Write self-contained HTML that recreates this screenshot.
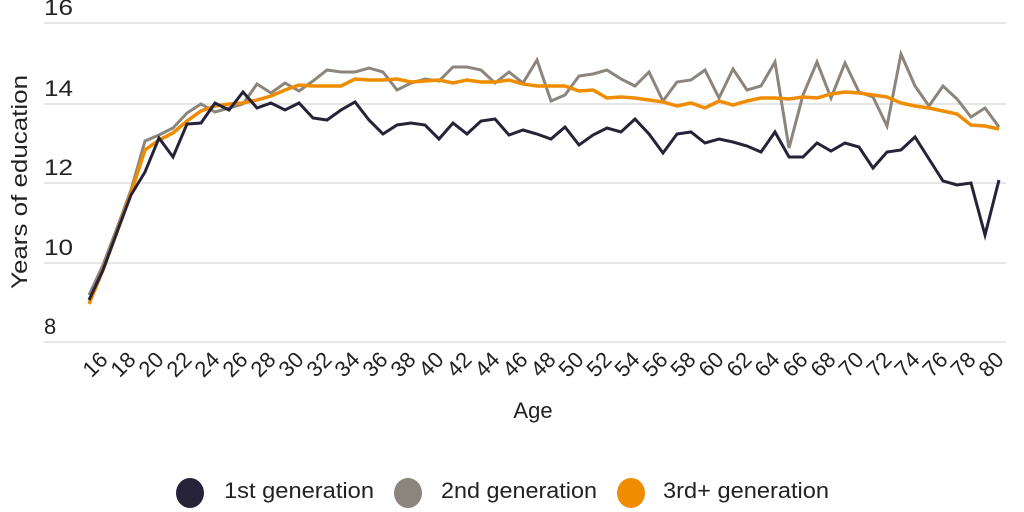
<!DOCTYPE html>
<html><head><meta charset="utf-8"><style>
html,body{margin:0;padding:0;background:#fff;}
svg{display:block;font-family:"Liberation Sans",sans-serif;}
</style></head><body>
<svg width="1024" height="512" viewBox="0 0 1024 512" xmlns="http://www.w3.org/2000/svg">
<g stroke="#e6e6e6" stroke-width="2">
<line x1="44" y1="23" x2="1006" y2="23"/>
<line x1="44" y1="104" x2="1006" y2="104"/>
<line x1="44" y1="183" x2="1006" y2="183"/>
<line x1="44" y1="263" x2="1006" y2="263"/>
<line x1="44" y1="342" x2="1006" y2="342"/>
</g>
<g font-size="22" fill="#222">
<text x="44" y="15" textLength="29" lengthAdjust="spacingAndGlyphs">16</text>
<text x="44" y="96" textLength="29" lengthAdjust="spacingAndGlyphs">14</text>
<text x="44" y="175" textLength="29" lengthAdjust="spacingAndGlyphs">12</text>
<text x="44" y="255" textLength="29" lengthAdjust="spacingAndGlyphs">10</text>
<text x="44" y="334">8</text>
</g>
<text transform="translate(27,182) rotate(-90)" text-anchor="middle" font-size="22" fill="#222" textLength="214" lengthAdjust="spacingAndGlyphs">Years of education</text>
<text x="533" y="418" text-anchor="middle" font-size="22" fill="#222">Age</text>
<g id="ticks" font-size="22" fill="#222" text-anchor="end"></g>
<polyline id="s2" fill="none" stroke="#8c857d" stroke-width="3" stroke-linejoin="miter"/>
<polyline id="s3" fill="none" stroke="#ef8c00" stroke-width="3.5"/>
<polyline id="s1" fill="none" stroke="#262338" stroke-width="3"/>
<ellipse cx="190" cy="493" rx="14" ry="15" fill="#262338"/>
<text x="224" y="498" font-size="22" fill="#222" textLength="150" lengthAdjust="spacingAndGlyphs">1st generation</text>
<ellipse cx="408" cy="493" rx="14" ry="15" fill="#8c857d"/>
<text x="441" y="498" font-size="22" fill="#222" textLength="156" lengthAdjust="spacingAndGlyphs">2nd generation</text>
<ellipse cx="631" cy="493" rx="14" ry="15" fill="#ef8c00"/>
<text x="663" y="498" font-size="22" fill="#222" textLength="166" lengthAdjust="spacingAndGlyphs">3rd+ generation</text>
</svg>
<script>
var d1=[300,270,232,195,172,138,157,124,123,103,110,92,108,103,110,103,118,120,110,102,120,134,125,123,125,139,123,134,121,119,135,130,134,139,127,145,135,128,132,119,134,153,134,132,143,139,142,146,152,132,157,157,143,151,143,147,168,152,150,137,159,181,185,183,235,180];
var d2=[295,265,228,190,141,135,128,113,104,112,108,104,84,93,83,91,81,70,72,72,68,72,90,83,79,81,67,67,70,83,72,83,60,101,95,76,74,70,79,86,72,101,82,80,70,98,69,90,86,62,148,95,62,98,63,92,97,126,54,86,106,86,99,117,108,127];
var d3=[304,270,232,193,150,140,133,121,111,106,104,103,100,96,90,85,86,86,86,79,80,80,79,82,81,80,83,80,82,82,80,84,86,86,86,91,90,98,97,98,100,102,106,103,108,101,105,101,98,98,99,97,98,94,92,93,95,97,103,106,108,111,114,125,126,129];
function pts(d){return d.map(function(y,i){return (89+14*i)+","+y}).join(" ");}
document.getElementById("s1").setAttribute("points",pts(d1));
document.getElementById("s2").setAttribute("points",pts(d2));
document.getElementById("s3").setAttribute("points",pts(d3));
var g=document.getElementById("ticks"),ns="http://www.w3.org/2000/svg";
for(var a=16;a<=80;a+=2){var x=89+14*(a-15)+6,t=document.createElementNS(ns,"text");
t.setAttribute("transform","translate("+x+",361) rotate(-45)");t.textContent=a;g.appendChild(t);}
</script>
</body></html>
